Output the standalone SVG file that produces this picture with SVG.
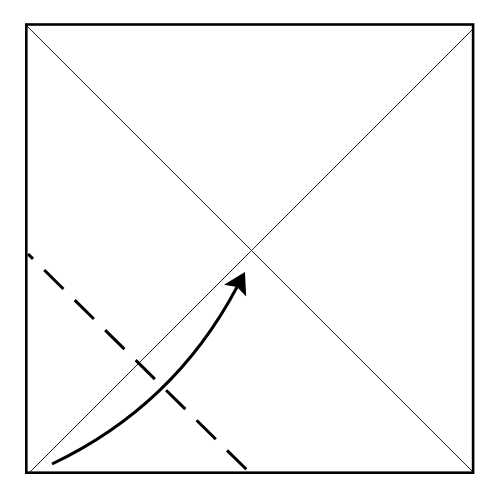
<svg xmlns="http://www.w3.org/2000/svg" width="500" height="500" viewBox="0 0 500 500">
<style>
.crease{stroke:#222;stroke-width:1;fill:none;shape-rendering:crispEdges}
.valley{stroke:#000;stroke-width:3;fill:none;stroke-dasharray:27 15.8}
.move{stroke:#000;stroke-width:3;fill:none}
</style>
<defs>
<marker id="ah" markerUnits="userSpaceOnUse" viewBox="-5 -13 23 26" markerWidth="23" markerHeight="26" refX="0" refY="0" orient="auto">
<path d="M17,0 L-4,-12.5 L0,0 L-4,12.5 Z" fill="#000"/>
</marker>
</defs>
<rect width="500" height="500" fill="#fff"/>
<g id="paper">
<line class="crease" x1="27" y1="26" x2="472" y2="471"/>
<line class="crease" x1="472.5" y1="29.5" x2="29.5" y2="472.5"/>
<rect x="26.3" y="24.5" width="446.8" height="448.2" fill="none" stroke="#000" stroke-width="2.6"/>
</g>
<g id="connectors">
<line class="valley" x1="28" y1="254" x2="247" y2="470" stroke-dashoffset="20"/>
<path class="move" d="M52,464 Q174,406 237,287" marker-end="url(#ah)"/>
</g>
</svg>
